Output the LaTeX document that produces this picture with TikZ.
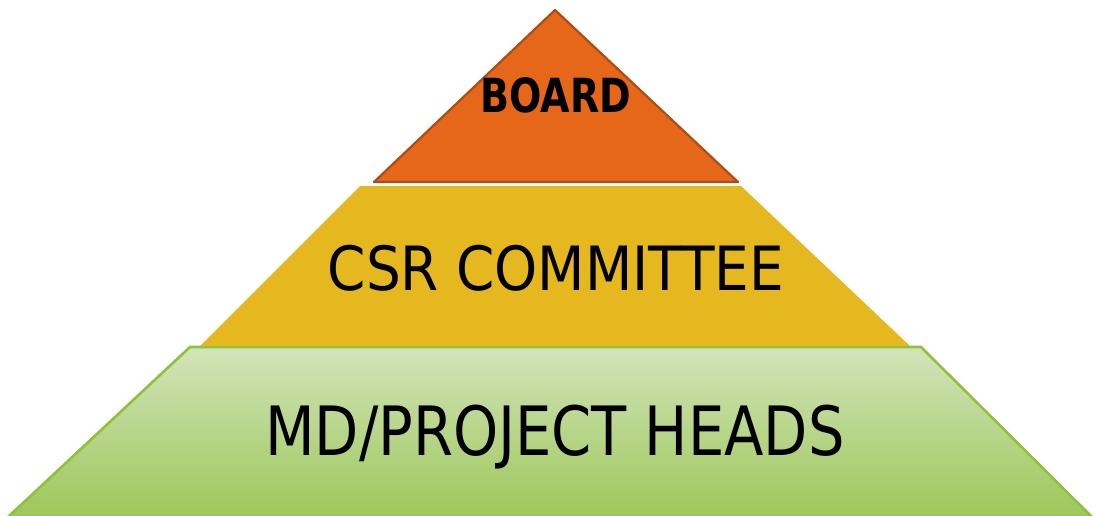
\documentclass[tikz,border=0pt]{standalone}
\usepackage{fontspec}
\setmainfont{DejaVu Sans Condensed}
\begin{document}
\begin{tikzpicture}[x=1pt,y=-1pt,
  tiertext/.style={inner sep=0pt, anchor=base, text=black}]
\definecolor{boardfill}{RGB}{230,102,26}
\definecolor{boardline}{RGB}{168,78,22}
\definecolor{csrfill}{RGB}{229,184,32}
\definecolor{headtop}{RGB}{210,228,186}
\definecolor{headbot}{RGB}{157,199,90}
\definecolor{headline}{RGB}{140,194,60}
\useasboundingbox (0,0) rectangle (1095,515);
% bottom tier
\shade[top color=headtop, bottom color=headbot, draw=headline, line width=2.6pt]
  (190,347) -- (921,347) -- (1092,517) -- (8,517) -- cycle;
% middle tier
\fill[csrfill] (360,186) -- (741,186) -- (910,346) -- (200,346) -- cycle;
% top tier
\fill[boardfill, draw=boardline, line width=2.2pt, line join=round]
  (555,10) -- (738,182) -- (374,182) -- cycle;
\node[tiertext, font=\bfseries\fontsize{47}{47}\selectfont] (board) at (556,112) {\scalebox{0.9}[1]{BOARD}};
\node[tiertext, font=\fontsize{61}{61}\selectfont] (csr) at (556,290) {CSR COMMITTEE};
\node[tiertext, font=\fontsize{68}{68}\selectfont] (heads) at (555,455) {\scalebox{0.94}[1]{MD/PROJECT HEADS}};
\end{tikzpicture}
\end{document}
